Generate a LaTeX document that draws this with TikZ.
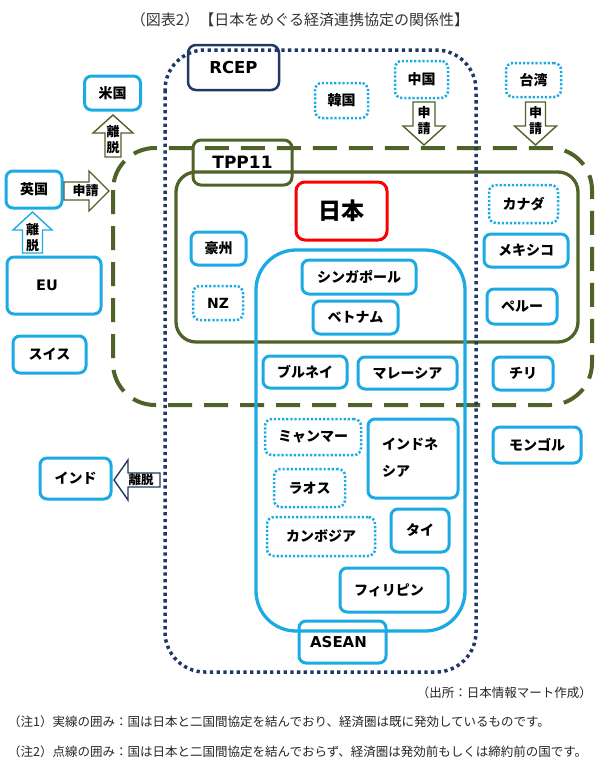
\documentclass[tikz,border=0pt]{standalone}
\usepackage{fontspec}
\setmainfont{Noto Sans CJK JP}
\newfontfamily\latfont{DejaVu Sans}
\usetikzlibrary{positioning}

\definecolor{boxcyan}{RGB}{28,170,228}
\definecolor{rcepnavy}{RGB}{32,56,100}
\definecolor{tppgreen}{RGB}{79,98,40}
\definecolor{japanred}{RGB}{250,0,0}

\tikzset{
	ctry/.style={draw=boxcyan, line width=3pt, rounded corners=7pt, inner sep=0pt, font=\fontsize{14}{16}\selectfont\bfseries},
	ctrydot/.style={ctry, line width=2.5pt, dash pattern=on 2.2pt off 1.9pt},
	latin/.style={font=\fontsize{#1}{#1}\selectfont\latfont\bfseries},
	arrlabel/.style={inner sep=0pt, align=center, font=\fontsize{13}{16}\selectfont\bfseries},
	blockarr/.style={draw=#1, line width=1.4pt, fill=white, line join=miter},
	note/.style={inner sep=0pt, font=\fontsize{12.5}{14}\selectfont, text=black!85}
}

\begin{document}
\begin{tikzpicture}[x=1pt, y=-1pt]
	\useasboundingbox (0,0) rectangle (600,769);

	\node[inner sep=0pt, font=\fontsize{15}{17}\selectfont, text=black!80] (title) at (300,20) {（図表2）【日本をめぐる経済連携協定の関係性】};

	\draw[tppgreen, line width=4pt, dash pattern=on 24pt off 12pt, rounded corners=42pt] (113,148) rectangle (592,405);
	\draw[tppgreen, line width=3.3pt, rounded corners=20pt] (176,172) rectangle (578,342);
	\draw[boxcyan, line width=3.3pt, rounded corners=40pt] (256,250) rectangle (465,631);
	\draw[rcepnavy, line width=3.5pt, dash pattern=on 3.3pt off 3.4pt, rounded corners=40pt] (165,50) rectangle (476,672);

	\node[draw=rcepnavy, line width=2.5pt, rounded corners=8pt, minimum width=91pt, minimum height=45pt, latin=16.5] (rcep) at (233.5,67.5) {RCEP};
	\node[draw=tppgreen, line width=3pt, rounded corners=8pt, minimum width=99pt, minimum height=45pt, latin=17] (tpp) at (242.5,162.5) {TPP11};
	\node[ctry, minimum width=87pt, minimum height=42pt, latin=15] (asean) at (342.5,642) {\hspace*{-8pt}ASEAN};
	\node[draw=japanred, line width=3pt, rounded corners=9pt, minimum width=91pt, minimum height=58pt, font=\fontsize{23}{25}\selectfont\bfseries] (japan) at (341.5,211) {日本};

	\node[ctry, minimum width=56pt, minimum height=34pt] (usa) at (112.5,93) {米国};
	\node[ctry, minimum width=56pt, minimum height=37pt] (uk) at (34,189.5) {英国};
	\node[ctry, minimum width=94pt, minimum height=57pt, latin=14.5] (eu) at (54,285.5) {\hspace*{-14pt}EU};
	\node[ctry, minimum width=73pt, minimum height=37pt] (swiss) at (49.5,354.5) {スイス};
	\node[ctry, minimum width=71pt, minimum height=41pt] (india) at (75.5,478.5) {インド};

	\node[ctrydot, minimum width=53pt, minimum height=35pt] (korea) at (341.5,100.5) {韓国};
	\node[ctrydot, minimum width=53pt, minimum height=37pt] (china) at (421.5,79.5) {中国};
	\node[ctrydot, minimum width=55pt, minimum height=34pt] (taiwan) at (533.5,80) {台湾};

	\node[ctry, minimum width=55pt, minimum height=33pt] (aus) at (218.5,248.5) {豪州};
	\node[ctrydot, minimum width=50pt, minimum height=34pt, latin=14] (nz) at (218,303) {NZ};
	\node[ctry, minimum width=114pt, minimum height=34pt] (singapore) at (359,277) {シンガポール};
	\node[ctry, minimum width=85pt, minimum height=33pt] (vietnam) at (355.5,317.5) {ベトナム};
	\node[ctry, minimum width=84pt, minimum height=32pt] (brunei) at (305,372) {ブルネイ};
	\node[ctry, minimum width=99pt, minimum height=32pt] (malaysia) at (407.5,373) {マレーシア};

	\node[ctrydot, minimum width=69pt, minimum height=38pt] (canada) at (523.5,204) {カナダ};
	\node[ctry, minimum width=84pt, minimum height=33pt] (mexico) at (526,250.5) {メキシコ};
	\node[ctry, minimum width=70pt, minimum height=35pt] (peru) at (522,306.5) {ペルー};
	\node[ctry, minimum width=60pt, minimum height=33pt] (chile) at (523,373.5) {チリ};
	\node[ctry, minimum width=88pt, minimum height=36pt] (mongolia) at (537,445) {モンゴル};

	\node[ctrydot, minimum width=96pt, minimum height=36pt] (myanmar) at (313,437) {ミャンマー};
	\node[ctry, minimum width=90pt, minimum height=79pt, text width=62pt, align=left, font=\fontsize{14}{27}\selectfont\bfseries] (indonesia) at (413,458.5) {インドネ\\シア\vphantom{g}};
	\node[ctrydot, minimum width=71pt, minimum height=38pt] (laos) at (309.5,488) {ラオス};
	\node[ctrydot, minimum width=108pt, minimum height=39pt] (cambodia) at (321,536.5) {カンボジア};
	\node[ctry, minimum width=58pt, minimum height=43pt] (thai) at (420,530.5) {タイ};
	\node[ctry, minimum width=108pt, minimum height=44pt] (philippines) at (394,590) {\hspace*{-10pt}フィリピン};

	\draw[blockarr=tppgreen] (413,102) -- (435,102) -- (435,126) -- (445,126) -- (424,145) -- (403,126) -- (413,126) -- cycle;
	\node[arrlabel] (chinareq) at (424,120.5) {申\\請};
	\draw[blockarr=tppgreen] (525.5,102) -- (545.5,102) -- (545.5,126) -- (556.5,126) -- (535.5,145) -- (514.5,126) -- (525.5,126) -- cycle;
	\node[arrlabel] (taiwanreq) at (535.5,120.5) {申\\請};
	\draw[blockarr=tppgreen] (105,157) -- (121,157) -- (121,133) -- (133,133) -- (113,115) -- (93,133) -- (105,133) -- cycle;
	\node[arrlabel] (usaleave) at (113,139.5) {離\\脱};
	\draw[blockarr=tppgreen] (64,182) -- (89,182) -- (89,171) -- (109,191) -- (89,211) -- (89,200) -- (64,200) -- cycle;
	\node[arrlabel] (ukreq) at (85.5,191) {申請};
	\draw[blockarr=boxcyan] (22.5,253) -- (42.5,253) -- (42.5,230) -- (52,230) -- (32.5,212) -- (13,230) -- (22.5,230) -- cycle;
	\node[arrlabel] (ukleave) at (32.5,237.5) {離\\脱};
	\draw[blockarr=rcepnavy] (160,473) -- (128,473) -- (128,460) -- (114,480) -- (128,500) -- (128,487) -- (160,487) -- cycle;
	\node[arrlabel, font=\fontsize{12.5}{14}\selectfont\bfseries] (indialeave) at (141,480) {離脱};

	\node[note, anchor=east] (source) at (592,693) {（出所：日本情報マート作成）};
	\node[note, anchor=west] (note1) at (8,722) {（注1）実線の囲み：国は日本と二国間協定を結んでおり、経済圏は既に発効しているものです。};
	\node[note, anchor=west] (note2) at (8,752) {（注2）点線の囲み：国は日本と二国間協定を結んでおらず、経済圏は発効前もしくは締約前の国です。};
\end{tikzpicture}
\end{document}
